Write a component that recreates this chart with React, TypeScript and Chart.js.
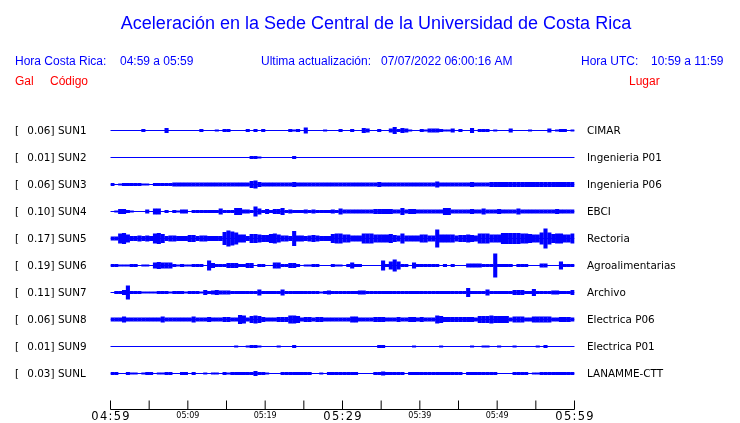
import { useEffect, useRef } from "react";
import { Chart, registerables } from "chart.js";

Chart.register(...registerables);

const TITLE = "Aceleración en la Sede Central de la Universidad de Costa Rica";
const HEADER_LOCAL_LABEL = "Hora Costa Rica:";
const HEADER_LOCAL_VALUE = "04:59 a 05:59";
const HEADER_UPDATE_LABEL = "Ultima actualización:";
const HEADER_UPDATE_VALUE = "07/07/2022 06:00:16 AM";
const HEADER_UTC_LABEL = "Hora UTC:";
const HEADER_UTC_VALUE = "10:59 a 11:59";
const COL_GAL = "Gal";
const COL_CODE = "Código";
const COL_PLACE = "Lugar";

const CODES = ["SUN1", "SUN2", "SUN3", "SUN4", "SUN5", "SUN6", "SUN7", "SUN8", "SUN9", "SUNL"];
const PEAK_GAL = ["0.06", "0.01", "0.06", "0.10", "0.17", "0.19", "0.11", "0.06", "0.01", "0.03"];
const PLACES = [
  "CIMAR",
  "Ingenieria P01",
  "Ingenieria P06",
  "EBCI",
  "Rectoria",
  "Agroalimentarias",
  "Archivo",
  "Electrica P06",
  "Electrica P01",
  "LANAMME-CTT",
];

const TICK_MINUTES = [0, 5, 10, 15, 20, 25, 30, 35, 40, 45, 50, 55, 60];
const TICK_LABELS = ["04:59", "", "05:09", "", "05:19", "", "05:29", "", "05:39", "", "05:49", "", "05:59"];
const MAJOR_TICK_LABELS = ["04:59", "05:29", "05:59"];

const BIN_MINUTES = 0.5;

// envelope thickness (peak-to-peak, in px of trace) per 30 s bin
const SUN1 = [
  1, 1, 1, 1, 1, 1, 1, 1, 3, 1,
  1, 1, 1, 1, 5, 1, 1, 1, 1, 1,
  1, 1, 1, 3, 1, 1, 1, 2, 1, 3,
  3, 1, 1, 1, 1, 3, 1, 3, 1, 3,
  1, 1, 1, 1, 1, 1, 3, 2, 3, 1,
  6, 1, 1, 1, 1, 2, 1, 1, 1, 3,
  1, 1, 3, 1, 1, 5, 4, 1, 1, 3,
  1, 1, 4, 7, 3, 5, 4, 2, 1, 1,
  3, 2, 4, 4, 4, 3, 2, 2, 4, 1,
  3, 1, 1, 5, 1, 3, 3, 3, 1, 2,
  1, 1, 1, 4, 1, 1, 1, 1, 2, 1,
  1, 1, 1, 4, 1, 2, 3, 3, 1, 2,
];
const SUN2 = [
  1, 1, 1, 1, 1, 1, 1, 1, 1, 1,
  1, 1, 1, 1, 1, 1, 1, 1, 1, 1,
  1, 1, 1, 1, 1, 1, 1, 1, 1, 1,
  1, 1, 1, 1, 1, 1, 3, 3, 2, 1,
  1, 1, 1, 1, 1, 1, 1, 3, 1, 1,
  1, 1, 1, 1, 1, 1, 1, 1, 1, 1,
  1, 1, 1, 1, 1, 1, 1, 1, 1, 1,
  1, 1, 1, 1, 1, 1, 1, 1, 1, 1,
  1, 1, 1, 1, 1, 1, 1, 1, 1, 1,
  1, 1, 1, 1, 1, 1, 1, 1, 1, 1,
  1, 1, 1, 1, 1, 1, 1, 1, 1, 1,
  1, 1, 1, 1, 1, 1, 1, 1, 1, 1,
];
const SUN3 = [
  3, 1, 2, 3, 3, 3, 3, 3, 2, 2,
  1, 3, 3, 3, 3, 3, 4, 4, 4, 4,
  4, 4, 4, 4, 4, 4, 4, 4, 4, 4,
  4, 4, 4, 4, 4, 4, 7, 8, 5, 4,
  4, 4, 4, 4, 4, 4, 4, 5, 4, 4,
  4, 4, 4, 4, 4, 4, 4, 4, 4, 4,
  4, 4, 4, 4, 4, 4, 4, 4, 4, 5,
  4, 4, 4, 4, 4, 4, 4, 4, 4, 4,
  4, 4, 4, 4, 6, 4, 4, 4, 4, 4,
  4, 4, 4, 5, 4, 4, 4, 4, 5, 5,
  5, 5, 5, 5, 5, 5, 5, 5, 5, 5,
  5, 5, 5, 5, 5, 5, 5, 5, 5, 5,
];
const SUN4 = [
  1, 2, 5, 5, 3, 2, 1, 1, 1, 4,
  1, 6, 6, 1, 3, 1, 3, 2, 4, 4,
  1, 3, 3, 3, 3, 3, 3, 3, 6, 3,
  3, 3, 7, 7, 4, 4, 3, 10, 6, 3,
  5, 3, 5, 5, 7, 3, 4, 3, 3, 3,
  4, 3, 4, 3, 3, 3, 3, 4, 3, 6,
  4, 4, 4, 4, 4, 4, 4, 4, 5, 5,
  5, 5, 5, 4, 4, 7, 4, 5, 5, 4,
  4, 4, 4, 4, 4, 4, 7, 7, 4, 4,
  4, 4, 4, 5, 4, 4, 6, 4, 4, 4,
  5, 4, 4, 4, 4, 6, 4, 4, 4, 4,
  4, 4, 4, 4, 4, 5, 4, 4, 4, 4,
];
const SUN5 = [
  4, 4, 10, 11, 8, 5, 5, 6, 5, 6,
  5, 10, 11, 9, 5, 6, 6, 5, 5, 5,
  7, 7, 5, 6, 6, 5, 5, 5, 5, 13,
  16, 14, 12, 8, 8, 5, 9, 9, 8, 7,
  7, 9, 10, 8, 6, 6, 5, 15, 6, 6,
  5, 6, 7, 6, 5, 5, 5, 9, 10, 10,
  8, 8, 6, 6, 6, 10, 10, 10, 8, 8,
  8, 8, 9, 7, 6, 10, 6, 6, 6, 6,
  8, 8, 6, 6, 18, 8, 8, 8, 8, 6,
  7, 7, 8, 7, 6, 10, 10, 10, 8, 8,
  8, 11, 11, 11, 11, 11, 10, 10, 9, 8,
  8, 12, 20, 12, 9, 10, 10, 8, 8, 10,
];
const SUN6 = [
  3, 3, 2, 2, 2, 3, 3, 1, 2, 2,
  1, 6, 7, 6, 6, 6, 3, 2, 3, 2,
  2, 3, 3, 3, 1, 10, 5, 3, 3, 3,
  5, 5, 5, 3, 3, 5, 5, 1, 3, 3,
  1, 1, 6, 6, 3, 3, 5, 5, 3, 1,
  2, 2, 3, 3, 1, 1, 1, 3, 2, 2,
  1, 3, 6, 3, 3, 1, 1, 1, 1, 1,
  10, 3, 8, 12, 8, 3, 3, 1, 6, 3,
  3, 3, 3, 3, 3, 1, 3, 1, 3, 1,
  1, 1, 4, 4, 4, 4, 3, 3, 3, 24,
  3, 3, 3, 3, 1, 3, 3, 3, 1, 1,
  1, 4, 4, 1, 1, 1, 8, 3, 3, 3,
];
const SUN7 = [
  1, 3, 3, 5, 14, 3, 3, 3, 2, 2,
  2, 2, 3, 3, 3, 2, 3, 3, 3, 2,
  3, 3, 3, 2, 5, 3, 4, 5, 4, 4,
  4, 3, 3, 3, 3, 3, 3, 3, 6, 3,
  3, 3, 3, 3, 6, 3, 3, 3, 3, 3,
  3, 3, 3, 3, 2, 3, 4, 3, 3, 3,
  3, 3, 3, 3, 4, 4, 3, 3, 3, 3,
  3, 3, 3, 3, 3, 3, 3, 3, 3, 3,
  3, 3, 3, 3, 3, 3, 3, 3, 3, 3,
  3, 3, 9, 3, 3, 3, 3, 6, 3, 3,
  3, 3, 3, 3, 5, 5, 5, 3, 3, 7,
  3, 3, 3, 3, 4, 4, 3, 3, 3, 5,
];
const SUN8 = [
  4, 4, 4, 6, 4, 4, 4, 4, 4, 4,
  4, 4, 4, 6, 4, 4, 4, 4, 4, 4,
  4, 6, 4, 4, 4, 5, 4, 4, 4, 5,
  5, 4, 4, 9, 8, 4, 7, 8, 7, 5,
  4, 4, 4, 5, 5, 5, 8, 8, 7, 4,
  5, 5, 4, 5, 5, 4, 4, 4, 4, 4,
  4, 4, 6, 6, 4, 4, 4, 4, 5, 5,
  5, 4, 4, 4, 5, 4, 4, 5, 5, 4,
  5, 4, 4, 4, 8, 7, 5, 5, 5, 5,
  5, 5, 5, 5, 4, 7, 7, 7, 8, 7,
  7, 7, 7, 4, 6, 6, 6, 4, 4, 6,
  6, 6, 6, 6, 4, 4, 5, 5, 5, 4,
];
const SUN9 = [
  1, 1, 1, 1, 1, 1, 1, 1, 1, 1,
  1, 1, 1, 1, 1, 1, 1, 1, 1, 1,
  1, 1, 1, 1, 1, 1, 1, 1, 1, 1,
  1, 1, 2, 1, 1, 2, 3, 3, 2, 1,
  1, 1, 1, 2, 1, 1, 1, 3, 1, 1,
  1, 1, 1, 1, 1, 1, 1, 1, 1, 1,
  1, 1, 1, 1, 1, 1, 1, 1, 1, 3,
  3, 1, 1, 1, 1, 1, 1, 1, 2, 1,
  1, 1, 1, 1, 1, 2, 1, 1, 1, 1,
  1, 1, 1, 2, 1, 1, 2, 2, 1, 1,
  2, 1, 1, 1, 2, 1, 1, 1, 1, 1,
  2, 1, 3, 1, 1, 1, 1, 1, 1, 1,
];
const SUNL = [
  3, 3, 1, 1, 3, 2, 2, 1, 2, 3,
  3, 1, 2, 2, 3, 3, 1, 1, 3, 3,
  1, 3, 1, 1, 2, 1, 2, 2, 1, 3,
  2, 3, 3, 3, 3, 3, 3, 5, 3, 3,
  2, 1, 1, 1, 3, 3, 3, 3, 3, 3,
  3, 3, 1, 1, 2, 1, 3, 3, 3, 3,
  3, 3, 3, 3, 1, 1, 1, 1, 3, 3,
  4, 3, 3, 3, 3, 3, 1, 3, 3, 3,
  3, 3, 3, 3, 3, 3, 3, 3, 3, 3,
  3, 1, 3, 3, 3, 3, 3, 3, 3, 3,
  1, 1, 1, 1, 3, 3, 3, 3, 1, 2,
  2, 3, 3, 3, 3, 3, 3, 3, 3, 3,
];

const TRACES = [SUN1, SUN2, SUN3, SUN4, SUN5, SUN6, SUN7, SUN8, SUN9, SUNL];

const TRACE_COLOR = "#0000ff";
const HEADER_BLUE = "#0000ff";
const HEADER_RED = "#ff0000";
// one trace row spans 27 px; thickness values are in px, so half-thickness in row units:
const HALF_PER_UNIT = 1 / 54;

function buildDatasets() {
  const sets: any[] = [];
  TRACES.forEach((arr, i) => {
    sets.push({
      type: "line",
      data: [
        { x: 0, y: i },
        { x: 60, y: i },
      ],
      borderColor: TRACE_COLOR,
      borderWidth: 1,
      pointRadius: 0,
      fill: false,
      order: 2,
    });
    sets.push({
      type: "bar",
      data: arr.map((v, b) => ({
        x: (b + 0.5) * BIN_MINUTES,
        y: [i - v * HALF_PER_UNIT, i + v * HALF_PER_UNIT],
      })),
      backgroundColor: TRACE_COLOR,
      borderWidth: 0,
      grouped: false,
      categoryPercentage: 1,
      barPercentage: 1.06,
      order: 1,
    });
  });
  return sets;
}

const textPlugin = {
  id: "sismoText",
  afterDraw(chart: any) {
    const ctx = chart.ctx as CanvasRenderingContext2D;
    const xs = chart.scales.x;
    const ys = chart.scales.y;
    ctx.save();

    // title
    ctx.fillStyle = HEADER_BLUE;
    ctx.textAlign = "center";
    ctx.textBaseline = "alphabetic";
    ctx.font = '18px "Liberation Sans", Arial, sans-serif';
    ctx.fillText(TITLE, 376, 29);

    // header line
    ctx.textAlign = "left";
    ctx.font = '12px "Liberation Sans", Arial, sans-serif';
    ctx.fillText(HEADER_LOCAL_LABEL, 15, 65);
    ctx.fillText(HEADER_LOCAL_VALUE, 120, 65);
    ctx.fillText(HEADER_UPDATE_LABEL, 261, 65);
    ctx.fillText(HEADER_UPDATE_VALUE, 381, 65);
    ctx.fillText(HEADER_UTC_LABEL, 581, 65);
    ctx.fillText(HEADER_UTC_VALUE, 651, 65);

    ctx.fillStyle = HEADER_RED;
    ctx.fillText(COL_GAL, 15, 85);
    ctx.fillText(COL_CODE, 50, 85);
    ctx.fillText(COL_PLACE, 629, 85);

    // row labels
    ctx.fillStyle = "#000000";
    ctx.font = '10.4px "DejaVu Sans", sans-serif';
    CODES.forEach((code, i) => {
      const y = ys.getPixelForValue(i) + 3.5;
      ctx.textAlign = "left";
      ctx.fillText("[", 15, y);
      ctx.textAlign = "right";
      ctx.fillText(PEAK_GAL[i] + "]", 54.5, y);
      ctx.textAlign = "left";
      ctx.fillText(code, 58, y);
      ctx.fillText(PLACES[i], 587, y);
    });

    // time axis
    const axisY = chart.chartArea.bottom + 9;
    ctx.strokeStyle = "#000000";
    ctx.lineWidth = 1;
    ctx.beginPath();
    ctx.moveTo(xs.getPixelForValue(TICK_MINUTES[0]), axisY);
    ctx.lineTo(xs.getPixelForValue(TICK_MINUTES[TICK_MINUTES.length - 1]), axisY);
    TICK_MINUTES.forEach((m) => {
      const px = xs.getPixelForValue(m);
      ctx.moveTo(px, axisY);
      ctx.lineTo(px, axisY - 9);
    });
    ctx.stroke();

    ctx.fillStyle = "#000000";
    ctx.textAlign = "center";
    TICK_MINUTES.forEach((m, k) => {
      const label = TICK_LABELS[k];
      if (!label) return;
      const px = xs.getPixelForValue(m);
      if (MAJOR_TICK_LABELS.includes(label)) {
        ctx.font = '11.5px "DejaVu Sans", sans-serif';
        (ctx as any).letterSpacing = "1.3px";
        ctx.fillText(label, px + 0.6, 420);
        (ctx as any).letterSpacing = "0px";
      } else {
        ctx.font = '8px "DejaVu Sans", sans-serif';
        ctx.fillText(label, px, 418);
      }
    });
    ctx.restore();
  },
};

export default function App() {
  const ref = useRef<HTMLCanvasElement | null>(null);
  useEffect(() => {
    if (!ref.current) return;
    const chart = new Chart(ref.current, {
      type: "bar",
      data: { datasets: buildDatasets() },
      options: {
        responsive: false,
        animation: false,
        devicePixelRatio: 1,
        layout: { padding: { left: 110.5, right: 165.5, top: 103.5, bottom: 22.5 } },
        plugins: {
          legend: { display: false },
          tooltip: { enabled: false },
          title: { display: false },
        },
        scales: {
          x: { type: "linear", min: 0, max: 60, offset: false, display: false },
          y: { type: "linear", min: -1, max: 10, reverse: true, display: false },
        },
      } as any,
      plugins: [textPlugin],
    });
    return () => chart.destroy();
  }, []);
  return (
    <div style={{ position: "fixed", left: 0, top: 0, width: 740, height: 423, background: "#ffffff" }}>
      <canvas ref={ref} width={740} height={423} style={{ display: "block" }} />
    </div>
  );
}
